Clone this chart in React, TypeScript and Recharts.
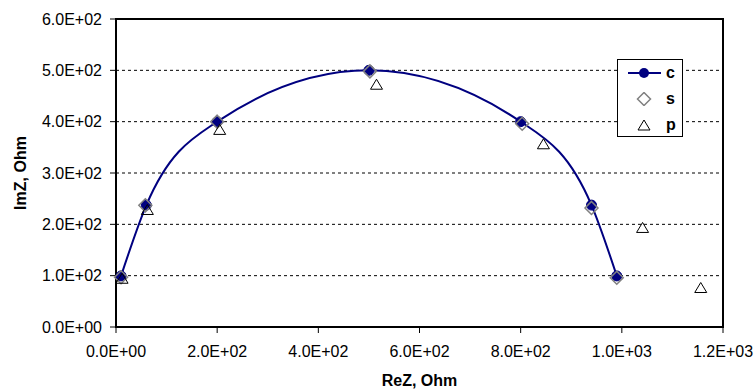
import {
  CartesianGrid,
  ComposedChart,
  Line,
  ReferenceArea,
  Scatter,
  XAxis,
  YAxis
} from 'recharts';

// c: calculated, s: simulated, p: measured (ReZ / ImZ in Ohm)
const reZC = [10, 60, 200, 500, 800, 940, 990];
const imZC = [99.5, 237.5, 400, 500, 400, 237.5, 99.5];

const reZS = [10, 58, 200, 502, 803, 940, 990];
const imZS = [97, 237, 400, 498, 396, 232, 96];

const reZP = [12, 62, 205, 515, 845, 1041, 1156];
const imZP = [93, 227, 383, 471, 355, 192, 75];

const xTicks = [0, 200, 400, 600, 800, 1000, 1200];
const yTicks = [0, 100, 200, 300, 400, 500, 600];

const seriesC = reZC.map((x, i) => ({ x, y: imZC[i] }));
const seriesS = reZS.map((x, i) => ({ x, y: imZS[i] }));
const seriesP = reZP.map((x, i) => ({ x, y: imZP[i] }));

const NAVY = '#000080';
const FONT = '"Liberation Sans", Arial, sans-serif';

function sci(v: number) {
  const [m, e] = v.toExponential(1).split('e');
  const sign = e[0];
  const digits = e.slice(1).padStart(2, '0');
  return `${m}E${sign}${digits}`;
}

function Diamond(props: any) {
  const { cx, cy } = props;
  const r = 6.5;
  return (
    <polygon
      points={`${cx},${cy - r} ${cx + r},${cy} ${cx},${cy + r} ${cx - r},${cy}`}
      fill='none'
      stroke='#808080'
      strokeWidth={1.5}
    />
  );
}

function Triangle(props: any) {
  const { cx, cy } = props;
  return (
    <polygon
      points={`${cx},${cy - 6} ${cx + 6},${cy + 4} ${cx - 6},${cy + 4}`}
      fill='none'
      stroke='#000'
      strokeWidth={1}
    />
  );
}

function LegendBox() {
  const row = { display: 'flex', alignItems: 'center', height: 26 };
  const label = {
    fontFamily: FONT,
    fontWeight: 700,
    fontSize: 16,
    marginLeft: 4
  };
  return (
    <div
      style={{
        position: 'absolute',
        left: 617,
        top: 59,
        width: 64,
        height: 76,
        border: '1px solid #000',
        background: '#fff'
      }}
    >
      <div style={row}>
        <svg width={44} height={14}>
          <line x1={10} y1={7} x2={43} y2={7} stroke={NAVY} strokeWidth={2} />
          <circle cx={26} cy={7} r={5} fill={NAVY} />
        </svg>
        <span style={label}>c</span>
      </div>
      <div style={row}>
        <svg width={44} height={14}>
          <Diamond cx={26} cy={7} />
        </svg>
        <span style={label}>s</span>
      </div>
      <div style={row}>
        <svg width={44} height={14}>
          <Triangle cx={26} cy={8} />
        </svg>
        <span style={label}>p</span>
      </div>
    </div>
  );
}

function ImpedanceChart() {
  return (
    <div style={{ position: 'absolute', left: 0, top: 0, width: 755, height: 390, background: '#fff' }}>
      <ComposedChart
        width={755}
        height={390}
        margin={{ top: 19, right: 32, bottom: 0, left: 0 }}
        style={{ fontFamily: FONT }}
      >
        <CartesianGrid
          vertical={false}
          stroke='#000'
          strokeDasharray='3 3'
        />
        <XAxis
          type='number'
          dataKey='x'
          domain={[0, 1200]}
          ticks={xTicks}
          tickFormatter={sci}
          height={63}
          tickSize={6}
          tickMargin={13}
          axisLine={{ stroke: '#000', strokeWidth: 2 }}
          tickLine={{ stroke: '#000' }}
          tick={{ fill: '#000', fontSize: 16 }}
          label={{
            value: 'ReZ, Ohm',
            position: 'insideBottom',
            offset: 4,
            fill: '#000',
            fontSize: 16,
            fontWeight: 700
          }}
        />
        <YAxis
          type='number'
          dataKey='y'
          domain={[0, 600]}
          ticks={yTicks}
          tickFormatter={sci}
          width={116}
          tickSize={6}
          tickMargin={8}
          axisLine={{ stroke: '#000', strokeWidth: 2 }}
          tickLine={{ stroke: '#000' }}
          tick={{ fill: '#000', fontSize: 16 }}
          label={{
            value: 'ImZ, Ohm',
            position: 'insideLeft',
            angle: -90,
            offset: 20,
            textAnchor: 'middle',
            fill: '#000',
            fontSize: 16,
            fontWeight: 700
          }}
        />
        <ReferenceArea
          x1={0}
          x2={1200}
          y1={0}
          y2={600}
          fill='none'
          stroke='#000'
          strokeWidth={2}
        />
        <Line
          data={seriesC}
          dataKey='y'
          name='c'
          type='monotone'
          stroke={NAVY}
          strokeWidth={2}
          dot={{ r: 5, fill: NAVY, stroke: NAVY, strokeWidth: 1 }}
          activeDot={false}
          isAnimationActive={false}
        />
        <Scatter
          data={seriesS}
          dataKey='y'
          name='s'
          shape={Diamond}
          isAnimationActive={false}
        />
        <Scatter
          data={seriesP}
          dataKey='y'
          name='p'
          shape={Triangle}
          isAnimationActive={false}
        />
      </ComposedChart>
      <LegendBox />
    </div>
  );
}

export default ImpedanceChart;
